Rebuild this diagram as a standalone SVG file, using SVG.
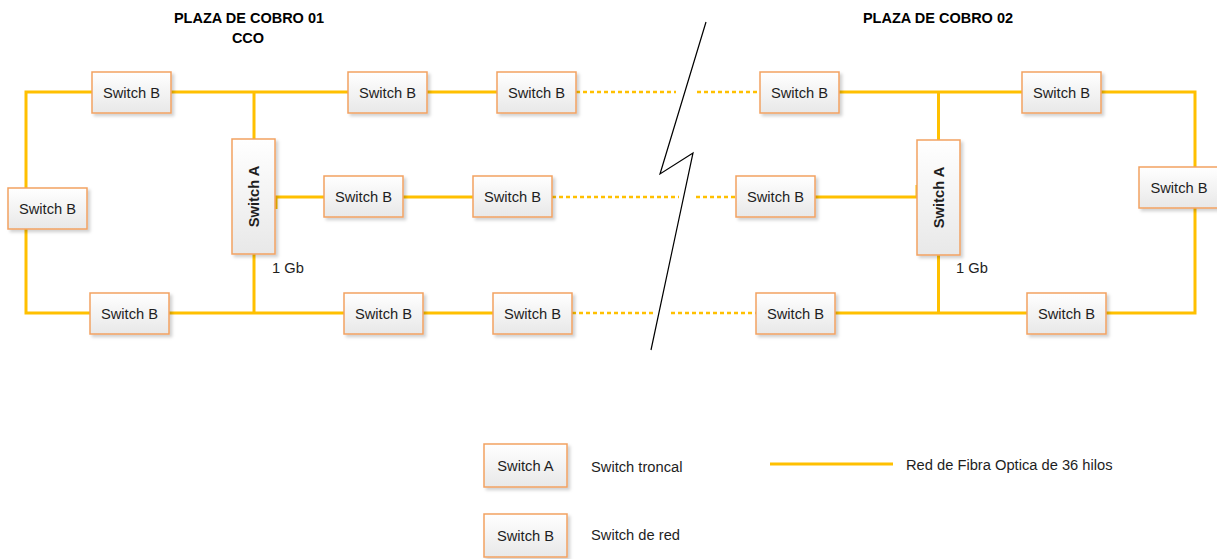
<svg xmlns="http://www.w3.org/2000/svg" width="1217" height="559" viewBox="0 0 1217 559">
<defs>
<linearGradient id="boxfill" x1="0" y1="0" x2="0" y2="1">
<stop offset="0" stop-color="#ffffff"/>
<stop offset="1" stop-color="#e8e8e8"/>
</linearGradient>
<filter id="shadow" x="-20%" y="-20%" width="150%" height="150%">
<feDropShadow dx="2.5" dy="2.5" stdDeviation="1.5" flood-color="#000000" flood-opacity="0.18"/>
</filter>
<style>
.box{fill:url(#boxfill);stroke:#F2A262;stroke-width:1.5;filter:url(#shadow)}
.lbl{font-family:"Liberation Sans",Arial,sans-serif;font-size:14.7px;fill:#1e1e1e}
.mid{text-anchor:middle}
.bold{font-weight:bold}
.title{font-family:"Liberation Sans",Arial,sans-serif;font-size:14.5px;font-weight:bold;fill:#000;text-anchor:middle}
.fiber{fill:none;stroke:#FFC000;stroke-width:3}
.dash{fill:none;stroke:#FFC000;stroke-width:2.5;stroke-dasharray:4 3}
.brk{fill:none;stroke:#000;stroke-width:1.2}
</style>
</defs>
<rect width="1217" height="559" fill="#ffffff"/>

<g id="titles">
<text class="title" x="249" y="23">PLAZA DE COBRO 01</text>
<text class="title" x="248" y="43">CCO</text>
<text class="title" x="938" y="23">PLAZA DE COBRO 02</text>
</g>

<g id="connectors">
<path class="fiber" d="M92,92 H26 V188"/>
<path class="fiber" d="M26,229 V313 H90"/>
<path class="fiber" d="M171,92 H348"/>
<path class="fiber" d="M254,92 V139"/>
<path class="fiber" d="M427,92 H497"/>
<path class="dash" d="M576,92 H676"/>
<path class="fiber" d="M324,197 H276 V209"/>
<path class="fiber" d="M403,197 H473"/>
<path class="dash" d="M552,197 H679"/>
<path class="fiber" d="M168,313 H344"/>
<path class="fiber" d="M254,254 V313"/>
<path class="fiber" d="M423,313 H493"/>
<path class="dash" d="M572,313 H655"/>
<path class="dash" d="M697,92 H760"/>
<path class="fiber" d="M839,92 H1022"/>
<path class="fiber" d="M938.5,92 V140"/>
<path class="fiber" d="M1101,92 H1195 V167"/>
<path class="fiber" d="M1195,208 V313 H1106"/>
<path class="dash" d="M696,197 H736"/>
<path class="fiber" d="M815,197 H917 V185"/>
<path class="dash" d="M671,313 H756"/>
<path class="fiber" d="M835,313 H1027"/>
<path class="fiber" d="M938.5,255 V313"/>
</g>

<g id="break">
<polyline class="brk" points="706,22 660,174 693,153 651,350"/>
</g>

<g id="sb_l_top1"><rect class="box" x="92" y="72" width="79" height="41"/><text class="lbl mid" x="131.5" y="97.5">Switch B</text></g>
<g id="sb_l_top2"><rect class="box" x="348" y="72" width="79" height="41"/><text class="lbl mid" x="387.5" y="97.5">Switch B</text></g>
<g id="sb_l_top3"><rect class="box" x="497" y="72" width="79" height="41"/><text class="lbl mid" x="536.5" y="97.5">Switch B</text></g>
<g id="sb_l_left"><rect class="box" x="8" y="188" width="79" height="41"/><text class="lbl mid" x="47.5" y="213.5">Switch B</text></g>
<g id="sb_l_mid1"><rect class="box" x="324" y="176" width="79" height="41"/><text class="lbl mid" x="363.5" y="201.5">Switch B</text></g>
<g id="sb_l_mid2"><rect class="box" x="473" y="176" width="79" height="41"/><text class="lbl mid" x="512.5" y="201.5">Switch B</text></g>
<g id="sb_l_bot1"><rect class="box" x="90" y="293" width="79" height="41"/><text class="lbl mid" x="129.5" y="318.5">Switch B</text></g>
<g id="sb_l_bot2"><rect class="box" x="344" y="293" width="79" height="41"/><text class="lbl mid" x="383.5" y="318.5">Switch B</text></g>
<g id="sb_l_bot3"><rect class="box" x="493" y="293" width="79" height="41"/><text class="lbl mid" x="532.5" y="318.5">Switch B</text></g>
<g id="sa_l"><rect class="box" x="232" y="139" width="43" height="115"/><text class="lbl mid bold" transform="translate(258.5,196.5) rotate(-90)" x="0" y="0">Switch A</text></g>
<g id="gb_l"><text class="lbl" x="272" y="273">1 Gb</text></g>

<g id="sb_r_top1"><rect class="box" x="760" y="72" width="79" height="41"/><text class="lbl mid" x="799.5" y="97.5">Switch B</text></g>
<g id="sb_r_top2"><rect class="box" x="1022" y="72" width="79" height="41"/><text class="lbl mid" x="1061.5" y="97.5">Switch B</text></g>
<g id="sb_r_mid1"><rect class="box" x="736" y="176" width="79" height="41"/><text class="lbl mid" x="775.5" y="201.5">Switch B</text></g>
<g id="sb_r_right"><rect class="box" x="1139" y="167" width="80" height="41"/><text class="lbl mid" x="1179" y="192.5">Switch B</text></g>
<g id="sb_r_bot1"><rect class="box" x="756" y="293" width="79" height="41"/><text class="lbl mid" x="795.5" y="318.5">Switch B</text></g>
<g id="sb_r_bot2"><rect class="box" x="1027" y="293" width="79" height="41"/><text class="lbl mid" x="1066.5" y="318.5">Switch B</text></g>
<g id="sa_r"><rect class="box" x="917" y="140" width="43" height="115"/><text class="lbl mid bold" transform="translate(943.5,197.5) rotate(-90)" x="0" y="0">Switch A</text></g>
<g id="gb_r"><text class="lbl" x="956" y="273">1 Gb</text></g>

<g id="legend_a"><rect class="box" x="484" y="444" width="83" height="43"/><text class="lbl mid" x="525.5" y="471">Switch A</text><text class="lbl" x="591" y="472">Switch troncal</text></g>
<g id="legend_b"><rect class="box" x="484" y="514" width="83" height="43"/><text class="lbl mid" x="525.5" y="541">Switch B</text><text class="lbl" x="591" y="540">Switch de red</text></g>
<g id="legend_fiber"><line class="fiber" x1="770" y1="464" x2="893" y2="464"/><text class="lbl" x="906" y="470">Red de Fibra Optica de 36 hilos</text></g>
</svg>
